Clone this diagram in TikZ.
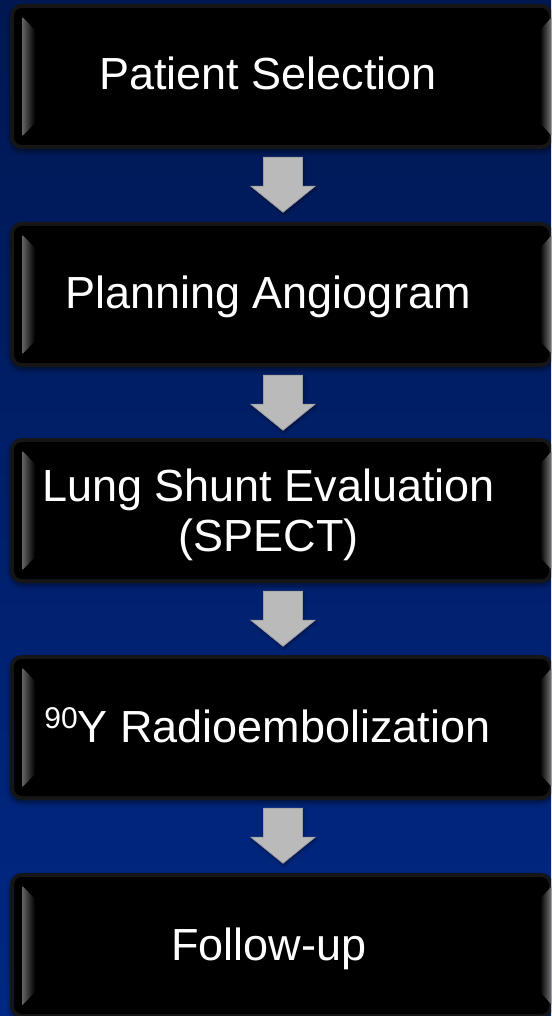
\documentclass[tikz,border=0pt]{standalone}
\usepackage{fontspec}
\setmainfont{Liberation Sans}
\usetikzlibrary{shadows.blur}
\definecolor{bgtop}{RGB}{0,24,82}
\definecolor{bgbot}{RGB}{0,40,132}
\definecolor{rimgray}{RGB}{22,22,22}
\definecolor{arrowgray}{RGB}{186,186,186}
\definecolor{arrowedge}{RGB}{160,160,160}
\tikzset{
  stepbox/.style={rectangle, rounded corners=12pt, fill=rimgray, draw=none,
    minimum width=543pt, minimum height=145pt, inner sep=0pt,
    blur shadow={shadow xshift=0pt, shadow yshift=-3pt, shadow blur radius=4pt, shadow opacity=45}},
  boxtext/.style={text=white, anchor=base, inner sep=0pt, align=center,
    font=\fontsize{45}{50}\selectfont},
  blockarrow/.style={fill=arrowgray, draw=arrowedge, line width=0.8pt, line join=miter,
    blur shadow={shadow xshift=1pt, shadow yshift=-2pt, shadow blur radius=3pt, shadow opacity=40}}
}
\begin{document}
\begin{tikzpicture}[x=1pt,y=-1pt]
\useasboundingbox (0,0) rectangle (551,1016);
\begin{scope}
\clip (0,0) rectangle (551,1016);
\fill[top color=bgtop, bottom color=bgbot] (0,0) rectangle (551,1016);
\foreach \n/\t in {1/4,2/222,3/438,4/655,5/873} {
  \node[stepbox] (b\n) at (281.5,\t+72.5) {};
  \fill[black, rounded corners=8pt] (14,\t+4) rectangle (549,\t+141);
  \fill[left color=black!62, right color=black] (22.5,\t+13) -- (35,\t+26) -- (35,\t+119) -- (22.5,\t+132) -- cycle;
  \fill[left color=black, right color=black!55] (540,\t+26) -- (551,\t+14) -- (551,\t+131) -- (540,\t+119) -- cycle;
}
\foreach \a/\b in {1/2,2/3,3/4,4/5} {
  \filldraw[blockarrow] ([xshift=-18pt,yshift=-8pt]b\a.south) -- ++(39,0) -- ++(0,29) -- ++(12.5,0) -- ++(-32,26) -- ++(-32,-26) -- ++(12.5,0) -- cycle;
}
\end{scope}
\node[boxtext] (t1) at (268,90) {Patient Selection};
\node[boxtext] (t2) at (268,308) {Planning Angiogram};
\node[boxtext] (t3) at (268.5,551) {Lung Shunt Evaluation\\(SPECT)};
\node[boxtext] (t4) at (267.5,742) {\raisebox{14pt}{\fontsize{30}{30}\selectfont 90}Y Radioembolization};
\node[boxtext] (t5) at (269,960) {Follow-up};
\end{tikzpicture}
\end{document}
